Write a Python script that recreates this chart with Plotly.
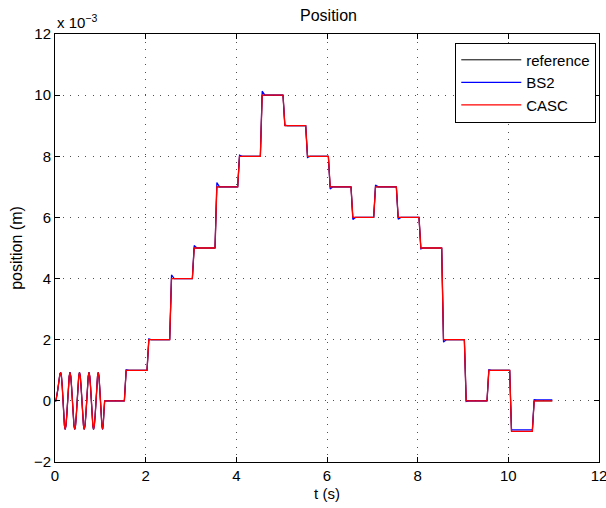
import plotly.graph_objects as go

# ---- data (position in units of 1e-3 m) ----
sine_t = [0, 0.02, 0.06, 0.09, 0.108, 0.125, 0.142, 0.16, 0.175, 0.19,
          0.208, 0.225, 0.242, 0.26, 0.278, 0.295, 0.313, 0.33, 0.348, 0.365,
          0.383, 0.4, 0.418, 0.435, 0.453, 0.47, 0.488, 0.505, 0.523, 0.54,
          0.558, 0.575, 0.593, 0.61, 0.628, 0.645, 0.663, 0.68, 0.698, 0.715,
          0.733, 0.75, 0.767, 0.784, 0.8, 0.817, 0.834, 0.85, 0.868, 0.886,
          0.903, 0.92, 0.938, 0.955, 0.97, 0.985, 1.0, 1.017, 1.034, 1.05,
          1.065, 1.08, 1.095]
sine_y = [0, 0, 0.35, 0.75, 0.88, 0.93, 0.8, 0.47, 0, -0.47,
          -0.8, -0.93, -0.8, -0.47, 0, 0.47, 0.8, 0.93, 0.8, 0.47,
          0, -0.47, -0.8, -0.93, -0.8, -0.47, 0, 0.47, 0.8, 0.93,
          0.8, 0.47, 0, -0.47, -0.8, -0.93, -0.8, -0.47, 0, 0.47,
          0.8, 0.93, 0.8, 0.47, 0, -0.47, -0.8, -0.93, -0.8, -0.47,
          0, 0.47, 0.8, 0.93, 0.8, 0.47, 0, -0.47, -0.8, -0.93,
          -0.75, -0.35, 0]

step_times = [1.5, 2.0, 2.5, 3.0, 3.5, 4.0, 4.5, 5.0, 5.5, 6.0, 6.5, 7.0, 7.5,
              8.0, 8.5, 9.0, 9.5, 10.0, 10.5]
step_levels = [1, 2, 4, 5, 7, 8, 10, 9, 8, 7, 6, 7, 6, 5, 2, 0, 1, -1, 0]
end_time = 10.97

bs2_overshoot = [0.02, 0.03, 0.12, 0.08, 0.14, 0.04, 0.13, 0.02, -0.04, -0.07,
                 -0.07, 0.06, -0.06, -0.03, -0.08, -0.02, 0.02, 0.05, 0.04]
bs2_offset = [0.0, 0.0, 0.0, 0.0, 0.0, 0.0, 0.0, 0.0, 0.0, 0.0,
              0.0, 0.0, 0.0, 0.0, 0.0, 0.0, 0.0, 0.05, 0.03]

rise_start = 0.03
rise_end = 0.07
settle = 0.13


def build_steps(over=None, off=None):
    t = list(sine_t)
    y = list(sine_y)
    prev = 0.0
    for k, (tk, lv) in enumerate(zip(step_times, step_levels)):
        t.append(tk + rise_start)
        y.append(prev)
        o = over[k] if over else 0.0
        f = off[k] if off else 0.0
        t.append(tk + rise_end)
        y.append(lv + o)
        t.append(tk + settle)
        y.append(lv + f)
        prev = lv + f
    t.append(end_time)
    y.append(prev)
    return t, y


ref_t, ref_y = build_steps()
bs2_t, bs2_y = build_steps(bs2_overshoot, bs2_offset)
casc_t, casc_y = build_steps()

fig = go.Figure()
fig.add_trace(go.Scatter(x=ref_t, y=ref_y, mode="lines", name="reference",
                         line=dict(color="black", width=1)))
fig.add_trace(go.Scatter(x=bs2_t, y=bs2_y, mode="lines", name="BS2",
                         line=dict(color="blue", width=1.2)))
fig.add_trace(go.Scatter(x=casc_t, y=casc_y, mode="lines", name="CASC",
                         line=dict(color="red", width=1.3)))

axis_common = dict(
    showline=True, linecolor="black", linewidth=1, mirror="ticks",
    ticks="inside", ticklen=5, tickcolor="black", tickwidth=1,
    showgrid=True, gridcolor="rgb(80,80,80)", gridwidth=1, griddash="1px,6.5px",
    zeroline=False, tickfont=dict(size=15, color="black"),
    ticklabeloverflow="allow", automargin=False,
)

fig.update_layout(
    width=606, height=508,
    margin=dict(l=55, r=7, t=34, b=46, autoexpand=False),
    paper_bgcolor="white", plot_bgcolor="white",
    font=dict(family="Liberation Sans, Arial, sans-serif", size=15, color="black"),
    xaxis=dict(range=[0, 12], tickvals=[0, 2, 4, 6, 8, 10, 12],
               title=dict(text="t (s)", standoff=5, font=dict(size=15)), **axis_common),
    yaxis=dict(range=[-2, 12], tickvals=[-2, 0, 2, 4, 6, 8, 10, 12],
               title=dict(text="position (m)", standoff=7, font=dict(size=16)), **axis_common),
    legend=dict(x=0.995, y=0.98, xanchor="right", yanchor="top",
                bordercolor="black", borderwidth=1, bgcolor="white",
                font=dict(size=15), tracegroupgap=0, itemwidth=60),
    showlegend=True,
)

fig.add_annotation(text="Position", xref="paper", yref="paper",
                   x=0.4476, y=1.0, xanchor="left", yanchor="bottom", yshift=8,
                   showarrow=False, font=dict(size=16))
fig.add_annotation(text="x 10<sup>\u22123</sup>", xref="paper", yref="paper",
                   x=0.0, y=1.0, xanchor="left", yanchor="bottom", yshift=1,
                   showarrow=False, font=dict(size=15))

fig.write_html("out.html")
